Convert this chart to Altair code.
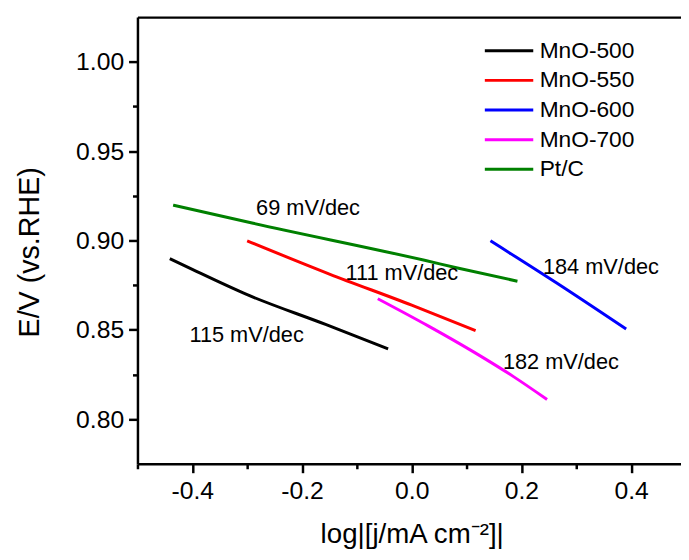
import altair as alt
import pandas as pd

FONT = "Liberation Sans"

series = ["MnO-500", "MnO-550", "MnO-600", "MnO-700", "Pt/C"]
colors = ["#000000", "#ff0000", "#0000ff", "#ff00ff", "#008000"]

# log|j| values and potentials (V vs RHE)
x_500 = [-0.441, -0.400, -0.301, -0.157, -0.043]
e_500 = [0.8898, 0.8838, 0.8698, 0.8530, 0.8393]
x_550 = [-0.300, -0.150, 0.000, 0.1165]
e_550 = [0.8998, 0.8812, 0.8638, 0.8495]
x_600 = [0.1436, 0.2637, 0.391]
e_600 = [0.8998, 0.8763, 0.8504]
x_700 = [-0.0619, 0.030, 0.1135, 0.1856, 0.2468]
e_700 = [0.8674, 0.8522, 0.8375, 0.8238, 0.8110]
x_ptc = [-0.435, -0.289, 0.0234, 0.0835, 0.1928]
e_ptc = [0.9198, 0.9096, 0.8889, 0.8846, 0.8772]

ann_text = ["69 mV/dec", "111 mV/dec", "115 mV/dec", "184 mV/dec", "182 mV/dec"]
ann_x = [-0.189, -0.018, -0.301, 0.345, 0.272]
ann_y = [0.9183, 0.8817, 0.8472, 0.8850, 0.8317]

x_major = [-0.4, -0.2, 0.0, 0.2, 0.4]
x_minor = [-0.5, -0.3, -0.1, 0.1, 0.3]
y_major = [0.80, 0.85, 0.90, 0.95, 1.00]
y_minor = [0.825, 0.875, 0.925, 0.975]

rows = []
for name, xs, es in zip(series, [x_500, x_550, x_600, x_700, x_ptc],
                        [e_500, e_550, e_600, e_700, e_ptc]):
    for i, (a, b) in enumerate(zip(xs, es)):
        rows.append({"series": name, "x": a, "y": b, "i": i})
df = pd.DataFrame(rows)
ann = pd.DataFrame({"t": ann_text, "x": ann_x, "y": ann_y})

xscale = alt.Scale(domain=[-0.5, 0.49099], nice=False, zero=False)
yscale = alt.Scale(domain=[0.775, 1.025], nice=False, zero=False)

common = dict(domainColor="black", domainWidth=2.5, tickColor="black",
              tickWidth=2.5, grid=False)

x_major_axis = alt.Axis(values=x_major, format=".1f", tickSize=9, labelPadding=6,
                        labelExpr="replace(datum.label, '\u2212', '-')",
                        labelFont=FONT, labelFontSize=25, labelColor="black",
                        title="log|[j/mA cm⁻²]|", titleFont=FONT, titleFontSize=28,
                        titleFontWeight="normal", titleColor="black",
                        titleX=277.5, titleY=80, titleBaseline="alphabetic",
                        titleAlign="center", orient="bottom", **common)
y_major_axis = alt.Axis(values=y_major, format=".2f", tickSize=9, labelPadding=5,
                        labelFont=FONT, labelFontSize=25, labelColor="black",
                        title="E/V (vs.RHE)", titleFont=FONT, titleFontSize=29,
                        titleFontWeight="normal", titleColor="black",
                        titleX=-109, titleY=237.5, titleAngle=-90,
                        titleBaseline="middle", titleAlign="center",
                        orient="left", **common)
x_minor_axis = alt.Axis(values=x_minor, tickSize=5, labels=False, domain=False,
                        title=None, orient="bottom", tickColor="black",
                        tickWidth=2.5, grid=False)
y_minor_axis = alt.Axis(values=y_minor, tickSize=5, labels=False, domain=False,
                        title=None, orient="left", tickColor="black",
                        tickWidth=2.5, grid=False)
x_top_axis = alt.Axis(ticks=False, labels=False, title=None, orient="top", **common)

lines = alt.Chart(df).mark_line(strokeWidth=3, clip=True,
                                interpolate="monotone").encode(
    x=alt.X("x:Q", scale=xscale, axis=x_major_axis),
    y=alt.Y("y:Q", scale=yscale, axis=y_major_axis),
    color=alt.Color("series:N", scale=alt.Scale(domain=series, range=colors),
                    legend=alt.Legend(title=None, orient="none", legendX=350,
                                      legendY=19, symbolType="stroke",
                                      symbolSize=2401, symbolStrokeWidth=3,
                                      labelFont=FONT, labelFontSize=23,
                                      labelColor="black", labelOffset=5,
                                      clipHeight=30, rowPadding=0, padding=0)),
    order="i:Q",
)

texts = alt.Chart(ann).mark_text(font=FONT, fontSize=22, color="black",
                                 align="center", baseline="middle").encode(
    x=alt.X("x:Q", scale=xscale, axis=x_minor_axis),
    y=alt.Y("y:Q", scale=yscale, axis=y_minor_axis),
    text="t:N",
)

frame = alt.Chart(ann).mark_point(opacity=0).encode(
    x=alt.X("x:Q", scale=xscale, axis=x_top_axis),
    y=alt.Y("y:Q", scale=yscale, axis=None),
)

chart = alt.layer(lines, texts, frame).resolve_scale(
    x="shared", y="shared"
).resolve_axis(
    x="independent", y="independent"
).properties(
    width=550, height=452,
    autosize=alt.AutoSizeParams(type="none"),
    padding={"left": 131, "top": 6, "right": 0, "bottom": 86},
    background="white",
).configure_view(stroke=None)

chart.save("out.html", embed_options={"renderer": "svg", "actions": False})
